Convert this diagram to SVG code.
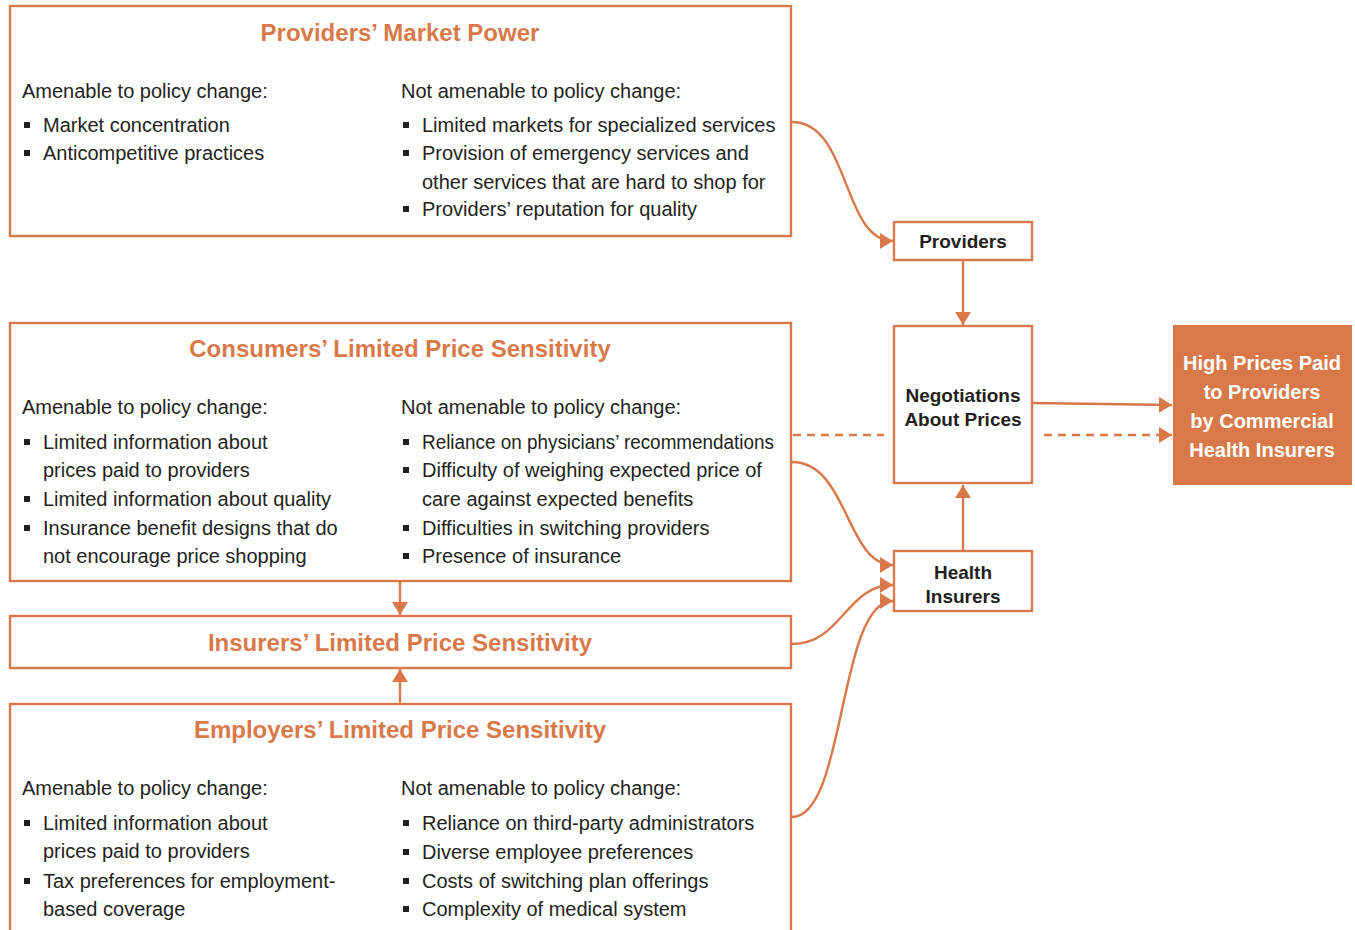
<svg xmlns="http://www.w3.org/2000/svg" width="1355" height="930" viewBox="0 0 1355 930">
  <defs>
    <marker id="arrow" markerUnits="userSpaceOnUse" markerWidth="16" markerHeight="18" refX="13" refY="8" orient="auto">
      <path d="M0,0 L13,8 L0,16 z" fill="#D9794A"/>
    </marker>
    <style>
      .box { fill: #fff; stroke: #D9794A; stroke-width: 2.4; }
      .hot { fill: #D9794A; }
      .title { font-family: "Liberation Sans", Arial, sans-serif; font-weight: bold; font-size: 24px; fill: #D9794A; text-anchor: middle; }
      .body { font-family: "Liberation Sans", Arial, sans-serif; font-size: 20px; fill: #231F20; }
      .node { font-family: "Liberation Sans", Arial, sans-serif; font-weight: bold; font-size: 19px; fill: #231F20; text-anchor: middle; }
      .nodew { font-family: "Liberation Sans", Arial, sans-serif; font-weight: bold; font-size: 20px; fill: #fff; text-anchor: middle; }
      .bullet { fill: #231F20; }
      .link { fill: none; stroke: #D9794A; stroke-width: 2.4; }
      .dash { fill: none; stroke: #D9794A; stroke-width: 2.4; stroke-dasharray: 8 6; }
    </style>
  </defs>

  <!-- connectors -->
  <g id="connectors">
    <path class="link" d="M792,122 C850,122 842,241 893,241" marker-end="url(#arrow)"/>
    <path class="link" d="M792,462 C848,462 846,565 893,565" marker-end="url(#arrow)"/>
    <path class="link" d="M792,644 C842,644 846,585 893,585" marker-end="url(#arrow)"/>
    <path class="link" d="M792,817 C846,817 838,601 893,601" marker-end="url(#arrow)"/>
    <path class="link" d="M963,260 L963,325" marker-end="url(#arrow)"/>
    <path class="link" d="M963,551 L963,485" marker-end="url(#arrow)"/>
    <path class="link" d="M400,581 L400,615" marker-end="url(#arrow)"/>
    <path class="link" d="M400,704 L400,669" marker-end="url(#arrow)"/>
    <path class="link" d="M1032,403 L1172,405" marker-end="url(#arrow)"/>
    <path class="dash" d="M793,435 L884,435"/>
    <path class="dash" d="M1044,435 L1172,435" marker-end="url(#arrow)"/>
  </g>

  <!-- Providers' Market Power -->
  <g id="providers-market-power">
    <rect class="box" x="10" y="6" width="781" height="230"/>
    <text class="title" x="400" y="41">Providers’ Market Power</text>
    <text class="body" x="22" y="98">Amenable to policy change:</text>
    <rect class="bullet" x="24" y="122" width="6" height="6"/>
    <text class="body" x="43" y="132">Market concentration</text>
    <rect class="bullet" x="24" y="150" width="6" height="6"/>
    <text class="body" x="43" y="160">Anticompetitive practices</text>
    <text class="body" x="401" y="98">Not amenable to policy change:</text>
    <rect class="bullet" x="403" y="122" width="6" height="6"/>
    <text class="body" x="422" y="132">Limited markets for specialized services</text>
    <rect class="bullet" x="403" y="150" width="6" height="6"/>
    <text class="body" x="422" y="160">Provision of emergency services and</text>
    <text class="body" x="422" y="189">other services that are hard to shop for</text>
    <rect class="bullet" x="403" y="206" width="6" height="6"/>
    <text class="body" x="422" y="216">Providers’ reputation for quality</text>
  </g>

  <!-- Consumers' Limited Price Sensitivity -->
  <g id="consumers">
    <rect class="box" x="10" y="323" width="781" height="258"/>
    <text class="title" x="400" y="357">Consumers’ Limited Price Sensitivity</text>
    <text class="body" x="22" y="414">Amenable to policy change:</text>
    <rect class="bullet" x="24" y="439" width="6" height="6"/>
    <text class="body" x="43" y="449">Limited information about</text>
    <text class="body" x="43" y="477">prices paid to providers</text>
    <rect class="bullet" x="24" y="496" width="6" height="6"/>
    <text class="body" x="43" y="506">Limited information about quality</text>
    <rect class="bullet" x="24" y="525" width="6" height="6"/>
    <text class="body" x="43" y="535">Insurance benefit designs that do</text>
    <text class="body" x="43" y="563">not encourage price shopping</text>
    <text class="body" x="401" y="414">Not amenable to policy change:</text>
    <rect class="bullet" x="403" y="439" width="6" height="6"/>
    <text class="body" x="422" y="449" textLength="352" lengthAdjust="spacingAndGlyphs">Reliance on physicians’ recommendations</text>
    <rect class="bullet" x="403" y="467" width="6" height="6"/>
    <text class="body" x="422" y="477">Difficulty of weighing expected price of</text>
    <text class="body" x="422" y="506">care against expected benefits</text>
    <rect class="bullet" x="403" y="525" width="6" height="6"/>
    <text class="body" x="422" y="535">Difficulties in switching providers</text>
    <rect class="bullet" x="403" y="553" width="6" height="6"/>
    <text class="body" x="422" y="563">Presence of insurance</text>
  </g>

  <!-- Insurers' Limited Price Sensitivity -->
  <g id="insurers">
    <rect class="box" x="10" y="616" width="781" height="52"/>
    <text class="title" x="400" y="651">Insurers’ Limited Price Sensitivity</text>
  </g>

  <!-- Employers' Limited Price Sensitivity -->
  <g id="employers">
    <rect class="box" x="10" y="704" width="781" height="240"/>
    <text class="title" x="400" y="738">Employers’ Limited Price Sensitivity</text>
    <text class="body" x="22" y="795">Amenable to policy change:</text>
    <rect class="bullet" x="24" y="820" width="6" height="6"/>
    <text class="body" x="43" y="830">Limited information about</text>
    <text class="body" x="43" y="858">prices paid to providers</text>
    <rect class="bullet" x="24" y="878" width="6" height="6"/>
    <text class="body" x="43" y="888">Tax preferences for employment-</text>
    <text class="body" x="43" y="916">based coverage</text>
    <text class="body" x="401" y="795">Not amenable to policy change:</text>
    <rect class="bullet" x="403" y="820" width="6" height="6"/>
    <text class="body" x="422" y="830">Reliance on third-party administrators</text>
    <rect class="bullet" x="403" y="849" width="6" height="6"/>
    <text class="body" x="422" y="859">Diverse employee preferences</text>
    <rect class="bullet" x="403" y="878" width="6" height="6"/>
    <text class="body" x="422" y="888">Costs of switching plan offerings</text>
    <rect class="bullet" x="403" y="906" width="6" height="6"/>
    <text class="body" x="422" y="916">Complexity of medical system</text>
  </g>

  <!-- Providers -->
  <g id="providers">
    <rect class="box" x="894" y="222" width="138" height="38"/>
    <text class="node" x="963" y="248">Providers</text>
  </g>

  <!-- Negotiations About Prices -->
  <g id="negotiations">
    <rect class="box" x="894" y="326" width="138" height="157"/>
    <text class="node" x="963" y="402">Negotiations</text>
    <text class="node" x="963" y="426">About Prices</text>
  </g>

  <!-- Health Insurers -->
  <g id="health-insurers">
    <rect class="box" x="894" y="551" width="138" height="60"/>
    <text class="node" x="963" y="579">Health</text>
    <text class="node" x="963" y="603">Insurers</text>
  </g>

  <!-- High Prices Paid to Providers -->
  <g id="high-prices">
    <rect class="hot" x="1173" y="325" width="179" height="160"/>
    <text class="nodew" x="1262" y="370">High Prices Paid</text>
    <text class="nodew" x="1262" y="399">to Providers</text>
    <text class="nodew" x="1262" y="428">by Commercial</text>
    <text class="nodew" x="1262" y="457">Health Insurers</text>
  </g>
</svg>
